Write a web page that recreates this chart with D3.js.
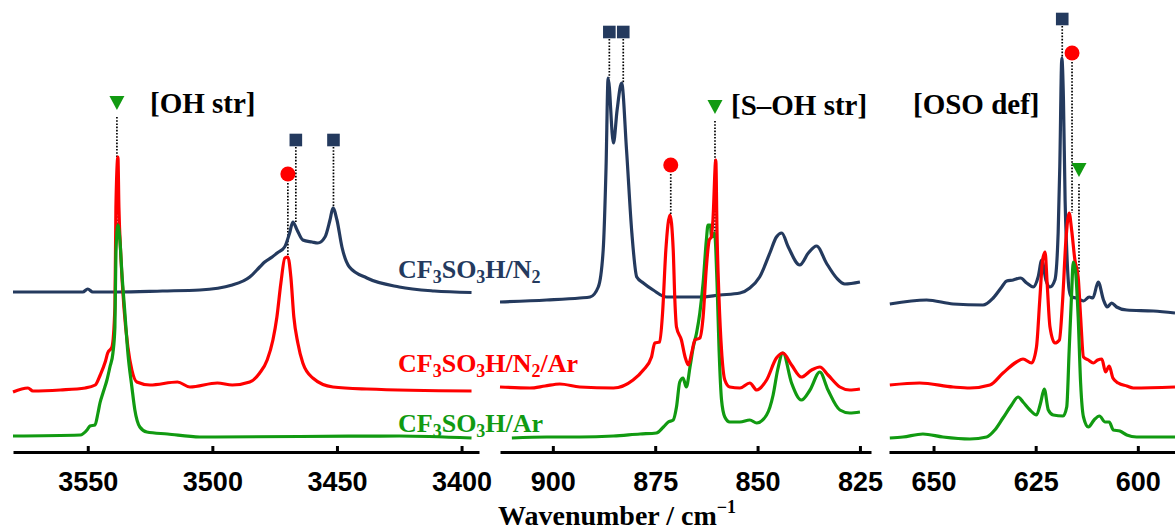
<!DOCTYPE html>
<html>
<head>
<meta charset="UTF-8">
<script src="https://cdn.jsdelivr.net/npm/d3@7"></script>
<title>CF3SO3H IR</title>
<style>
  body { margin: 0; background: #fff; }
  svg { display: block; }
</style>
</head>
<body>
<svg></svg>
<script>
const width = 1175;
const height = 531;

// axis extents and tick labels (cm-1), one per panel
const domainOH = [3580, 3393];
const domainSOH = [912.9, 822.3];
const domainOSO = [660.9, 590.9];
const ticksOH = [3550, 3500, 3450, 3400];
const ticksSOH = [900, 875, 850, 825];
const ticksOSO = [650, 625, 600];
const panelNames = ["[OH str]", "[S–OH str]", "[OSO def]"];

const seriesNames = ["CF3SO3H/N2", "CF3SO3H/N2/Ar", "CF3SO3H/Ar"];
const offsets = [1.55, 0.63, 0.15];

// spectra as [wavenumber, absorbance]
const n2OH = [[3580,0.05],[3565,0.05],[3552,0.05],[3550,0.08],[3548,0.05],[3538,0.05],[3520,0.06],[3505,0.07],
  [3492,0.12],[3485,0.2],[3481,0.3],[3479,0.35],[3476,0.4],[3474,0.44],[3471,0.5],[3469,0.64],[3467.7,0.75],
  [3466,0.67],[3463.7,0.57],[3460,0.55],[3457.7,0.54],[3454.8,0.6],[3452.8,0.77],[3451.6,0.89],[3450,0.77],
  [3448,0.5],[3445,0.3],[3438,0.19],[3425,0.1],[3411,0.06],[3396,0.045]];
const n2arOH = [[3580,-0.03],[3574,0.01],[3572,-0.02],[3561,-0.01],[3551,0.01],[3547,0.04],[3545,0.14],[3543,0.27],
  [3542,0.36],[3540.3,0.42],[3539.1,0.82],[3538.7,1.82],[3537.9,2.32],[3537.5,1.82],[3536.7,1.32],[3535.5,0.82],
  [3533.9,0.42],[3532.3,0.19],[3530.3,0.07],[3525,0.04],[3514,0.07],[3509,0.02],[3498,0.06],[3492,0.04],[3485,0.07],
  [3481,0.16],[3478,0.29],[3475.7,0.49],[3474.1,0.72],[3472.5,1.06],[3470.9,1.31],[3469.7,1.32],[3468.5,1.12],
  [3467.3,0.72],[3465.7,0.46],[3463.7,0.26],[3459.7,0.11],[3451.6,0.02],[3438,0],[3396,-0.02]];
const arOH = [[3580,0.01],[3553,0.02],[3550.3,0.07],[3549.1,0.11],[3547.1,0.12],[3545.9,0.24],[3545.1,0.34],
  [3543.9,0.44],[3542.3,0.57],[3541.1,0.7],[3539.9,0.84],[3539.1,1.1],[3538.7,1.84],[3537.9,2.12],[3537.1,1.97],
  [3536.3,1.64],[3535.1,1.24],[3533.9,0.84],[3532.3,0.5],[3531.1,0.27],[3529.1,0.1],[3526.3,0.05],[3518,0.03],
  [3505,0],[3465,0.005],[3425,0.01],[3396,-0.01]];

const n2SOH = [[912.9,-0.05],[901.5,-0.03],[893.4,-0.01],[890.9,0],[888.9,0.1],[887.7,0.47],[887,1.3],[886.5,2.19],
  [885.2,1.54],[884.3,1.87],[883.2,2.14],[882,1.47],[880.7,0.64],[879.5,0.2],[877.9,0.14],[875.5,0.07],[872.2,0],
  [869,0],[864.1,0],[859.2,0.02],[854.3,0.04],[851.9,0.09],[849.5,0.2],[847,0.44],[845.4,0.6],[844.1,0.64],
  [842.5,0.5],[839.7,0.32],[837.6,0.44],[835.6,0.51],[833.2,0.34],[830.7,0.19],[828.7,0.13],[825,0.15]];
const n2arSOH = [[912.9,0.02],[905.6,0.01],[901.9,0.03],[898.3,0.05],[893.4,0.02],[885.2,0.01],[880.4,0.09],
  [877.9,0.19],[875.9,0.32],[875.1,0.46],[873.9,0.47],[873.2,0.76],[872.4,1.39],[871.4,1.74],[870.6,1.39],
  [870.2,0.89],[869.8,0.62],[868.6,0.49],[867.7,0.32],[866.9,0.24],[866.1,0.36],[865.3,0.49],[864.1,0.51],
  [863.3,0.72],[862.5,1.22],[861.8,1.49],[861.3,1.52],[860.9,1.69],[860.2,2.29],[859.9,1.56],[859.4,0.89],
  [858.8,0.39],[858,0.09],[856.8,0.02],[854.3,0.01],[851.9,0.06],[850.2,-0.01],[847.8,0.09],[845.4,0.31],
  [843.8,0.36],[841.7,0.24],[839.3,0.12],[836.8,0.19],[834.8,0.22],[832.8,0.14],[829.9,0.02],[827.5,-0.01],[825,0]];
const arSOH = [[910,-0.01],[901.5,0],[893.4,0],[885.2,0.01],[878.7,0.03],[874.7,0.04],[873,0.1],[871.8,0.15],
  [870.6,0.17],[869.8,0.3],[869,0.55],[868.2,0.59],[867.4,0.5],[866.5,0.7],[865.7,0.9],[864.9,1.04],[864.1,1.24],
  [863.3,1.54],[862.5,1.97],[862.1,2.12],[861.5,2.12],[861.3,2.0],[860.9,2.02],[860.5,2.04],[859.9,1.54],
  [859.4,0.87],[858.8,0.37],[858,0.2],[856.8,0.15],[854.3,0.15],[851.9,0.17],[850.2,0.14],[847.8,0.22],
  [846.2,0.42],[845.1,0.67],[843.8,0.84],[841.7,0.54],[839.3,0.37],[837.2,0.47],[834.8,0.65],[832.8,0.47],
  [829.9,0.27],[827.5,0.24],[825,0.25]];

const n2OSO = [[660.7,-0.07],[651.7,-0.03],[645.2,-0.07],[637.9,-0.08],[635.4,-0.01],[633.3,0.1],[632.1,0.16],
  [630.5,0.17],[628.7,0.19],[627.2,0.14],[625.6,0.1],[624.4,0.2],[623.5,0.37],[622.5,0.17],[621.5,0.1],[620.3,0.17],
  [619.5,0.64],[619.1,1.3],[618.6,2.39],[618.2,1.97],[617.8,0.97],[617.4,0.47],[616.8,0.07],[616.2,0],[615,-0.01],
  [613.3,-0.04],[611.9,0],[611,-0.01],[609.7,0.15],[608.4,-0.03],[607.5,-0.1],[606.4,-0.06],[605.2,-0.1],
  [602.7,-0.13],[596.2,-0.14],[590.9,-0.16]];
const n2arOSO = [[660.7,0.04],[653.4,0.06],[645.2,0.02],[641.1,0.01],[636.2,0.04],[633,0.16],[629.7,0.27],
  [628.1,0.3],[626,0.26],[624.8,0.42],[624,0.89],[623.3,1.29],[622.7,1.37],[622.2,1.06],[621.5,0.62],[620.3,0.46],
  [619.2,0.49],[618.4,0.89],[617.6,1.49],[616.8,1.76],[616.2,1.59],[615.4,1.29],[614.6,1.12],[614,0.72],
  [613.3,0.32],[612.1,0.29],[610.9,0.26],[609.8,0.29],[608.8,0.3],[607.9,0.17],[607,0.23],[606.1,0.11],
  [604.8,0.06],[602.7,0.03],[601.1,0.01],[590.9,0.02]];
const arOSO = [[660.7,-0.01],[657.5,0],[652.6,0.03],[647.7,0],[641.1,-0.02],[637,0],[635,0.07],[633,0.19],
  [630.9,0.32],[629.3,0.4],[628.1,0.35],[626.4,0.27],[624.8,0.22],[623.8,0.34],[622.9,0.48],[621.9,0.27],
  [620.7,0.22],[618.3,0.21],[617.4,0.3],[616.8,0.87],[616.2,1.44],[615.8,1.75],[615.2,1.64],[614.6,1.2],[614,0.54],
  [613.3,0.2],[612.1,0.1],[610.7,0.17],[609.4,0.21],[608,0.15],[607,0.15],[606,0.07],[604.4,0.06],[602.7,0.02],
  [600.3,0],[590.9,0]];

// band assignments: panel, series (0 square, 1 circle, 2 triangle), wavenumber, marker level
const markers = [
  {panel: 0, series: 2, wn: 3538.3, level: 3.49},
  {panel: 0, series: 1, wn: 3469.7, level: 2.78},
  {panel: 0, series: 0, wn: 3466.5, level: 3.12},
  {panel: 0, series: 0, wn: 3451.4, level: 3.12},
  {panel: 1, series: 0, wn: 886.2, level: 4.2},
  {panel: 1, series: 0, wn: 882.8, level: 4.2},
  {panel: 1, series: 1, wn: 871.2, level: 2.87},
  {panel: 1, series: 2, wn: 860.4, level: 3.45},
  {panel: 2, series: 0, wn: 618.5, level: 4.33},
  {panel: 2, series: 1, wn: 616.1, level: 3.99},
  {panel: 2, series: 2, wn: 614.4, level: 2.82}
];

const colors = ["#243a5e", "#ff0000", "#119a11"];
const axisY = 452;

const panels = [
  {domain: domainOH, ticks: ticksOH, range: [13, 479], spectra: [n2OH, n2arOH, arOH], order: [0, 1, 2],
   label: {x: 150, y: 113}},
  {domain: domainSOH, ticks: ticksSOH, range: [500, 871], spectra: [n2SOH, n2arSOH, arSOH], order: [0, 2, 1],
   label: {x: 731, y: 115}},
  {domain: domainOSO, ticks: ticksOSO, range: [889, 1175], spectra: [n2OSO, n2arOSO, arOSO], order: [0, 1, 2],
   label: {x: 913, y: 114}}
];

const y = d3.scaleLinear().domain([0, 4.4]).range([axisY, 12]);

const svg = d3.select("svg")
    .attr("width", width)
    .attr("height", height)
    .attr("viewBox", [0, 0, width, height]);

panels.forEach((p, pi) => {
  const x = d3.scaleLinear().domain(p.domain).range(p.range);

  // dotted drop lines, behind the traces
  const gMark = svg.append("g");
  markers.filter(m => m.panel === pi).forEach(m => {
    const mx = x(m.wn);
    const near = p.spectra[m.series].filter(d => Math.abs(x(d[0]) - mx) <= 4);
    const top = d3.max(near, d => d[1]) + offsets[m.series];
    const gap = m.series === 0 ? 7 : m.series === 1 ? 9 : 14;
    gMark.append("line")
        .attr("x1", mx).attr("x2", mx)
        .attr("y1", y(m.level) + gap).attr("y2", y(top))
        .attr("stroke", "#000")
        .attr("stroke-width", 1.7)
        .attr("stroke-dasharray", "1.6 1.6");
  });

  p.order.forEach(si => {
    const line = d3.line()
        .x(d => x(d[0]))
        .y(d => y(d[1] + offsets[si]))
        .curve(d3.curveMonotoneX);
    svg.append("path")
        .datum(p.spectra[si])
        .attr("fill", "none")
        .attr("stroke", colors[si])
        .attr("stroke-width", 3.2)
        .attr("stroke-linejoin", "round")
        .attr("d", line);
  });

  markers.filter(m => m.panel === pi).forEach(m => {
    const mx = x(m.wn), my = y(m.level);
    if (m.series === 0) {
      svg.append("rect")
          .attr("x", mx - 6.3).attr("y", my - 6.3)
          .attr("width", 12.6).attr("height", 12.6)
          .attr("fill", colors[0]);
    } else if (m.series === 1) {
      svg.append("circle")
          .attr("cx", mx).attr("cy", my).attr("r", 7.5)
          .attr("fill", colors[1]);
    } else {
      svg.append("path")
          .attr("transform", `translate(${mx},${my})`)
          .attr("d", "M-7.5,-7H7.5L0,7Z")
          .attr("fill", colors[2]);
    }
  });

  svg.append("g")
      .attr("transform", `translate(0,${axisY})`)
      .call(d3.axisBottom(x).tickValues(p.ticks).tickFormat(d3.format("d"))
          .tickSizeInner(-6).tickSizeOuter(0).tickPadding(20))
      .call(g => g.select(".domain").attr("stroke", "#000").attr("stroke-width", 3))
      .call(g => g.selectAll(".tick line").attr("stroke", "#000").attr("stroke-width", 3))
      .call(g => g.selectAll(".tick text")
          .attr("fill", "#000")
          .attr("font-family", "'Liberation Sans', Arial, sans-serif")
          .attr("font-weight", "bold")
          .attr("font-size", 27));

  svg.append("text")
      .attr("x", p.label.x)
      .attr("y", p.label.y)
      .attr("font-family", "'Liberation Serif', 'Times New Roman', serif")
      .attr("font-weight", "bold")
      .attr("font-size", 29)
      .attr("fill", "#000")
      .text(panelNames[pi]);
});

// series labels with subscripted digits
const labelPos = [{x: 398, y: 278}, {x: 398, y: 372}, {x: 398, y: 432}];
seriesNames.forEach((name, i) => {
  const t = svg.append("text")
      .attr("x", labelPos[i].x)
      .attr("y", labelPos[i].y)
      .attr("font-family", "'Liberation Serif', 'Times New Roman', serif")
      .attr("font-weight", "bold")
      .attr("font-size", 26)
      .attr("fill", colors[i]);
  let shifted = false;
  name.split(/(\d)/).filter(s => s.length).forEach(s => {
    const sub = /\d/.test(s);
    const ts = t.append("tspan").text(s);
    if (sub) { ts.attr("font-size", 18).attr("dy", 5); shifted = true; }
    else if (shifted) { ts.attr("dy", -5); shifted = false; }
  });
});

const title = svg.append("text")
    .attr("x", 498)
    .attr("y", 525)
    .attr("font-family", "'Liberation Serif', 'Times New Roman', serif")
    .attr("font-weight", "bold")
    .attr("font-size", 28)
    .attr("fill", "#000");
title.append("tspan").text("Wavenumber / cm");
title.append("tspan").attr("font-size", 18).attr("dy", -12).text("−1");
</script>
</body>
</html>
